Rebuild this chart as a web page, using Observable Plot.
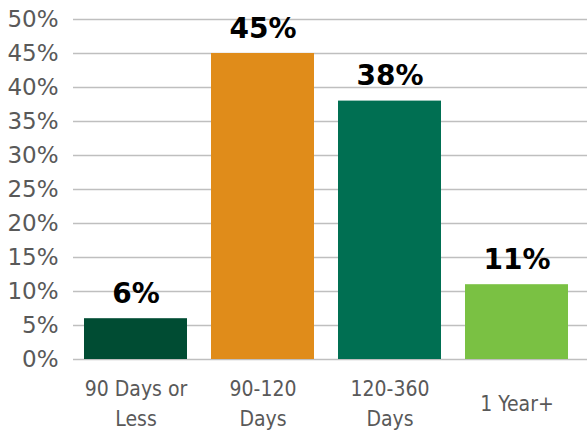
<!DOCTYPE html>
<html>
<head>
<meta charset="utf-8">
<script src="https://cdn.jsdelivr.net/npm/d3@7"></script>
<script src="https://cdn.jsdelivr.net/npm/@observablehq/plot@0.6"></script>
<style>
  html, body { margin: 0; padding: 0; background: #fff; }
  #chart svg { display: block; }
  #chart .x-labels text { font-stretch: condensed; }
</style>
</head>
<body>
<div id="chart"></div>
<script>
// Share of responses by time horizon
const categories = ["90 Days or\nLess", "90-120\nDays", "120-360\nDays", "1 Year+"];
const shares = [6, 45, 38, 11];
const barColors = ["#004c33", "#e08c1a", "#006f52", "#7ac143"];
const yTicks = [0, 5, 10, 15, 20, 25, 30, 35, 40, 45, 50];

const data = categories.map((c, i) => ({category: c, share: shares[i]}));

const chart = Plot.plot({
  width: 587,
  height: 430,
  marginTop: 19,
  marginBottom: 71,
  marginLeft: 73,
  marginRight: 0,
  style: {background: "#fff", overflow: "visible"},
  x: {domain: categories, range: [72, 580], paddingInner: 0.19, paddingOuter: 0.095},
  y: {domain: [0, 50]},
  color: {domain: categories, range: barColors},
  marks: [
    Plot.gridY(yTicks, {stroke: "#bfbfbf", strokeOpacity: 1, strokeWidth: 1.5}),
    Plot.axisY(yTicks, {
      tickSize: 0,
      tickPadding: 15,
      tickFormat: d => d + "%",
      fontSize: 23,
      fontFamily: "'DejaVu Sans', sans-serif",
      fill: "#595959",
      label: null
    }),
    Plot.axisX({
      tickSize: 0,
      tickPadding: 0,
      lineAnchor: "middle",
      lineHeight: 1.4,
      dy: 42,
      fontSize: 21,
      fontFamily: "'DejaVu Sans Condensed', 'DejaVu Sans', sans-serif",
      fill: "#595959",
      className: "x-labels",
      label: null
    }),
    Plot.barY(data, {x: "category", y: "share", fill: "category"}),
    Plot.text(data, {
      x: "category",
      y: "share",
      text: d => d.share + "%",
      lineAnchor: "bottom",
      dy: -16,
      fontSize: 28,
      fontWeight: "bold",
      fontFamily: "'DejaVu Sans', sans-serif",
      fill: "#000"
    })
  ]
});

document.getElementById("chart").appendChild(chart);
</script>
</body>
</html>
